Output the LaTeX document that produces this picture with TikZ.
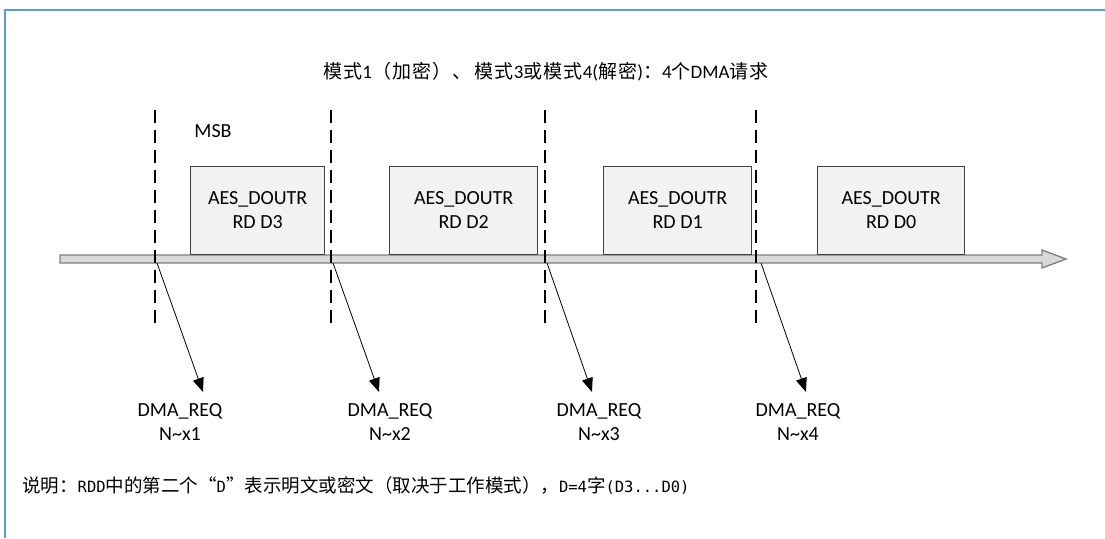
\documentclass[tikz,border=0pt]{standalone}
\usepackage{fontspec}
\setmainfont{Carlito}
\newfontfamily\cjk{Noto Sans CJK SC}
\newfontfamily\cjkT[LetterSpace=6]{Noto Sans CJK SC}
\newfontfamily\notemono{DejaVu Sans Mono}
\usetikzlibrary{arrows.meta}
\definecolor{framecol}{HTML}{5B9BD5}
\definecolor{barfill}{HTML}{D9D9D9}
\definecolor{barline}{HTML}{7F7F7F}
\definecolor{boxfill}{HTML}{F2F2F2}
\definecolor{boxline}{HTML}{404040}
\begin{document}
\begin{tikzpicture}[x=1pt,y=-1pt,
  lbl/.style={font=\fontsize{20}{24}\selectfont, align=center, inner sep=0pt},
  databox/.style={draw=boxline, line width=1.3pt, fill=boxfill, minimum height=88pt, inner sep=0pt, align=center, font=\fontsize{20}{24}\selectfont, anchor=south west},
  divider/.style={line width=1.8pt, dash pattern=on 13pt off 7pt},
  reqarrow/.style={line width=0.8pt, -{Triangle[length=14pt,width=11pt]}}
]
\useasboundingbox (0,0) rectangle (1105,538);
\fill[white] (0,0) rectangle (1105,538);
% frame (only top and left edges visible)
\draw[framecol, line width=1.2pt] (5,538) -- (5,10) -- (1105,10);

% title
\node[lbl, font=\fontsize{19}{24}\selectfont] (title) at (546,72)
  {{\cjkT 模式}1{\cjkT （加密）、}\,{\cjkT 模式}3{\cjkT 或模式}4({\cjkT 解密}){\cjkT ：}4{\cjkT 个}DMA{\cjkT 请求}};

% MSB
\node[lbl] (msb) at (213,131) {MSB};

% timeline block arrow
\filldraw[fill=barfill, draw=barline, line width=1.3pt]
  (60,255) -- (1042,255) -- (1042,250) -- (1066,259) -- (1042,268) -- (1042,263) -- (60,263) -- cycle;

% data boxes
\node[databox, minimum width=134pt] (b3) at (190,255) {AES\_DOUTR\\RD D3};
\node[databox, minimum width=148pt] (b2) at (389,255) {AES\_DOUTR\\RD D2};
\node[databox, minimum width=148pt] (b1) at (603,255) {AES\_DOUTR\\RD D1};
\node[databox, minimum width=147pt] (b0) at (817,255) {AES\_DOUTR\\RD D0};

% dashed dividers
\coordinate (d1t) at (155,110); \coordinate (d1b) at (155,325);
\coordinate (d2t) at (331,110); \coordinate (d2b) at (331,325);
\coordinate (d3t) at (545,110); \coordinate (d3b) at (545,325);
\coordinate (d4t) at (756,110); \coordinate (d4b) at (756,325);
\draw[divider] (d1t) -- (d1b);
\draw[divider] (d2t) -- (d2b);
\draw[divider] (d3t) -- (d3b);
\draw[divider] (d4t) -- (d4b);

% request labels
\node[lbl] (r1) at (180,422) {DMA\_REQ\\N\textasciitilde x1};
\node[lbl] (r2) at (390,422) {DMA\_REQ\\N\textasciitilde x2};
\node[lbl] (r3) at (599,422) {DMA\_REQ\\N\textasciitilde x3};
\node[lbl] (r4) at (798,422) {DMA\_REQ\\N\textasciitilde x4};

% arrows
\coordinate (s1) at (157,263); \coordinate (t1) at (203,392);
\coordinate (s2) at (333,263); \coordinate (t2) at (379,392);
\coordinate (s3) at (547,263); \coordinate (t3) at (592,392);
\coordinate (s4) at (761,263); \coordinate (t4) at (806,392);
\draw[reqarrow] (s1) -- (t1);
\draw[reqarrow] (s2) -- (t2);
\draw[reqarrow] (s3) -- (t3);
\draw[reqarrow] (s4) -- (t4);

% note
\node[lbl, anchor=west] (note) at (22,486)
  {\cjk\fontsize{18.5}{22}\selectfont 说明：{\notemono\fontsize{15.5}{22}\selectfont RDD}中的第二个“{\notemono\fontsize{15.5}{22}\selectfont D}”表示明文或密文（取决于工作模式），{\notemono\fontsize{15.5}{22}\selectfont D=4}字{\notemono\fontsize{15.5}{22}\selectfont (D3...D0)}};
\end{tikzpicture}
\end{document}
